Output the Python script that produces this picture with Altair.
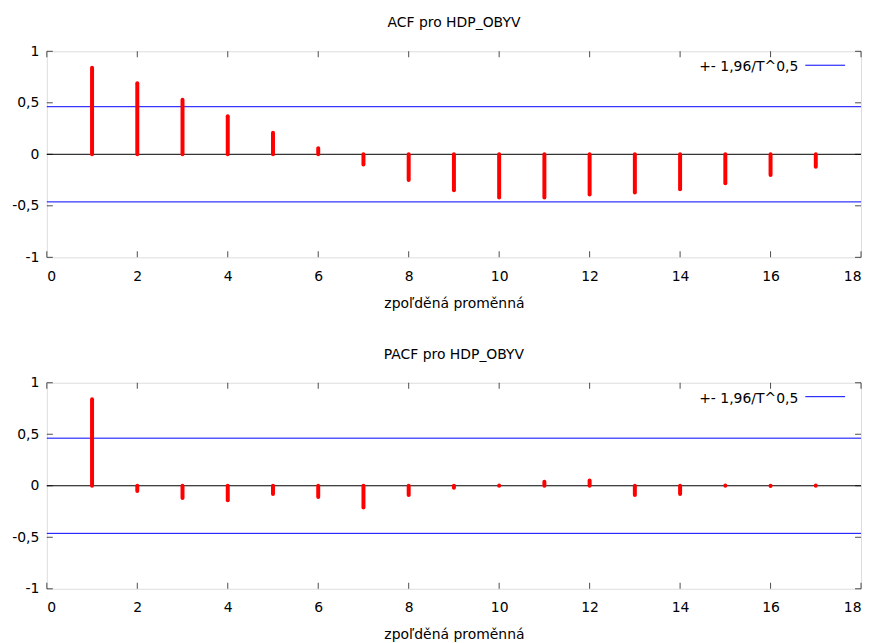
import altair as alt
import pandas as pd

lags = list(range(1, 18))
acf_values = [0.84, 0.69, 0.53, 0.37, 0.21, 0.06, -0.10, -0.25, -0.35, -0.42,
              -0.42, -0.39, -0.37, -0.34, -0.28, -0.20, -0.12]
pacf_values = [0.84, -0.05, -0.12, -0.14, -0.08, -0.11, -0.21, -0.09, -0.02, 0.003,
               0.04, 0.05, -0.09, -0.08, 0.003, -0.003, 0.003]
bound = 1.96 / 18 ** 0.5
bands = [bound, -bound]
x_ticks = list(range(0, 19, 2))
y_ticks = [-1, -0.5, 0, 0.5, 1]
titles = ["ACF pro HDP_OBYV", "PACF pro HDP_OBYV"]
x_title = "zpoľděná proměnná"
legend_label = "+- 1,96/T^0,5"

W, H = 818, 207
FONT = "DejaVu Sans"
FS = 14
comma = "replace('' + datum.value, '.', ',')"


def panel(values, title):
    df = pd.DataFrame({"lag": lags, "value": values})
    xs = alt.Scale(domain=[0, 18], nice=False)
    ys = alt.Scale(domain=[-1, 1], nice=False)
    xaxis = alt.Axis(values=x_ticks, grid=False, ticks=False, domain=False,
                     labelFontSize=FS, labelFont=FONT, labelPadding=12,
                     title=x_title, titleFontSize=FS, titleFont=FONT,
                     titleFontWeight="normal", titlePadding=13, labelColor="#000",
                     titleColor="#000")
    yaxis = alt.Axis(values=y_ticks, grid=False, ticks=False, domain=False,
                     labelFontSize=FS, labelFont=FONT, labelPadding=8,
                     labelExpr=comma, title=None, labelColor="#000")

    zero = alt.Chart(pd.DataFrame({"z": [0]})).mark_rule(color="black", strokeWidth=1).encode(
        y=alt.Y("z:Q", scale=ys, axis=yaxis))
    blue = alt.Chart(pd.DataFrame({"b": bands})).mark_rule(color="#0000ff", strokeWidth=1).encode(
        y=alt.Y("b:Q", scale=ys))
    stems = alt.Chart(df).mark_rule(color="#ff0000", strokeWidth=4, strokeCap="round").encode(
        x=alt.X("lag:Q", scale=xs, axis=xaxis),
        y=alt.Y("value:Q", scale=ys),
        y2=alt.datum(0))
    xt = pd.DataFrame({"t": x_ticks})
    yt = pd.DataFrame({"t": y_ticks})
    tick_top = alt.Chart(xt).mark_tick(orient="vertical", size=6, thickness=1, color="black").encode(
        x=alt.X("t:Q", scale=xs), y=alt.value(3))
    tick_bot = alt.Chart(xt).mark_tick(orient="vertical", size=6, thickness=1, color="black").encode(
        x=alt.X("t:Q", scale=xs), y=alt.value(H - 3))
    tick_left = alt.Chart(yt).mark_tick(orient="horizontal", size=6, thickness=1, color="black").encode(
        y=alt.Y("t:Q", scale=ys), x=alt.value(3))
    tick_right = alt.Chart(yt).mark_tick(orient="horizontal", size=6, thickness=1, color="black").encode(
        y=alt.Y("t:Q", scale=ys), x=alt.value(W - 3))
    leg_text = alt.Chart(pd.DataFrame({"l": [legend_label]})).mark_text(
        align="right", baseline="middle", fontSize=FS, font=FONT, color="black").encode(
        text="l:N", x=alt.value(W - 63), y=alt.value(16))
    leg_line = alt.Chart(pd.DataFrame({"l": [legend_label]})).mark_rule(color="#0000ff", strokeWidth=1).encode(
        x=alt.value(W - 56), x2=alt.value(W - 16), y=alt.value(14))

    return alt.layer(zero, blue, stems, tick_top, tick_bot, tick_left, tick_right,
                     leg_text, leg_line).properties(
        width=W, height=H,
        title=alt.TitleParams(title, fontSize=FS, font=FONT, fontWeight="normal",
                              anchor="middle", offset=14, color="#000"))


chart = alt.vconcat(panel(acf_values, titles[0]), panel(pacf_values, titles[1]),
                    spacing=36).properties(
    padding={"left": 3, "top": 6, "right": 5, "bottom": 2}
).configure_view(stroke="#111", strokeWidth=1.5).configure(background="white")

chart.save("out.html", embed_options={"renderer": "svg", "actions": False})
